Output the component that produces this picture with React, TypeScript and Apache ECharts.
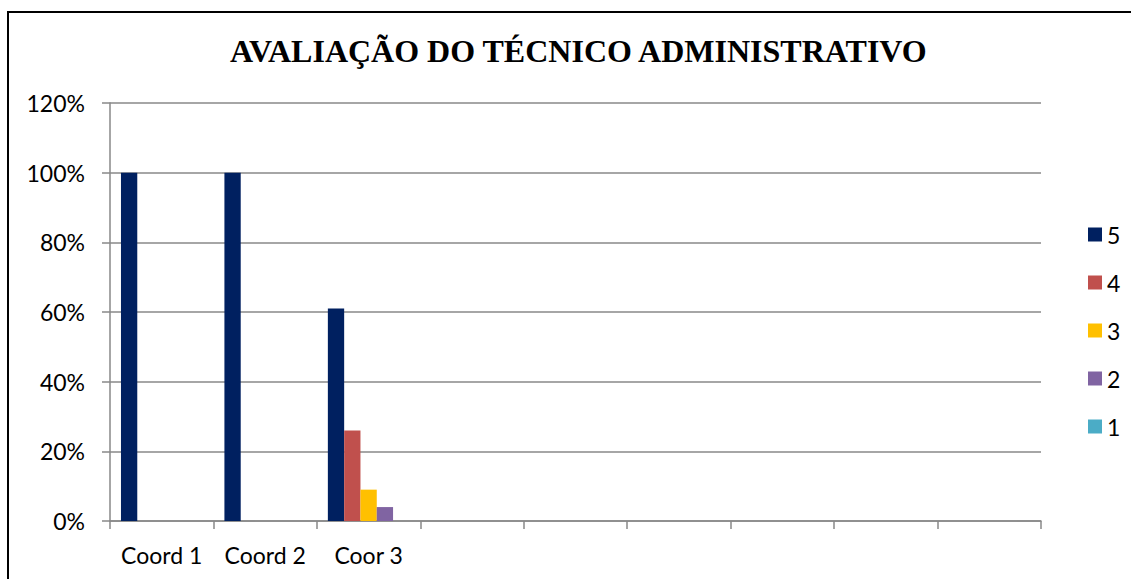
import React, { useEffect, useRef } from "react";
import * as echarts from "echarts";

const categories = ["Coord 1", "Coord 2", "Coor 3", "", "", "", "", "", ""];
const seriesNames = ["5", "4", "3", "2", "1"];
const values5 = [100, 100, 61, null, null, null, null, null, null];
const values4 = [null, null, 26, null, null, null, null, null, null];
const values3 = [null, null, 9, null, null, null, null, null, null];
const values2 = [null, null, 4, null, null, null, null, null, null];
const values1 = [null, null, 0, null, null, null, null, null, null];
const colors = ["#002060", "#C0504D", "#FFC000", "#8064A2", "#4BACC6"];
const yTicks = [0, 20, 40, 60, 80, 100, 120];

const FONT = "Lato";

export default function App() {
  const ref = useRef<HTMLDivElement>(null);
  useEffect(() => {
    if (!ref.current) return;
    const chart = echarts.init(ref.current, undefined, { renderer: "svg" });
    const allValues = [values5, values4, values3, values2, values1];
    chart.setOption({
      animation: false,
      backgroundColor: "#ffffff",
      title: {
        text: "AVALIAÇÃO DO TÉCNICO ADMINISTRATIVO",
        left: 230,
        top: 35,
        padding: 0,
        textStyle: {
          fontFamily: "Liberation Serif",
          fontWeight: "bold",
          fontSize: 32,
          color: "#000",
        },
      },
      graphic: [
        {
          type: "rect",
          shape: { x: 8, y: 12, width: 1300, height: 800 },
          style: { fill: "none", stroke: "#000", lineWidth: 2 },
          silent: true,
        },
      ],
      legend: {
        orient: "vertical",
        left: 1083,
        top: 218,
        itemWidth: 14,
        itemHeight: 14,
        itemGap: 25,
        icon: "rect",
        data: seriesNames,
        textStyle: { fontFamily: FONT, fontSize: 23, color: "#000" },
      },
      grid: { left: 110, right: 90, top: 103, bottom: 58 },
      xAxis: {
        type: "category",
        data: categories,
        axisLine: { lineStyle: { color: "#888", width: 1.5 } },
        axisTick: { show: true, length: 8, lineStyle: { color: "#888", width: 1.5 } },
        axisLabel: {
          interval: 0,
          margin: 22,
          fontFamily: FONT,
          fontSize: 23,
          color: "#000",
        },
      },
      yAxis: {
        type: "value",
        min: 0,
        max: 120,
        interval: 20,
        axisLine: { show: true, lineStyle: { color: "#888", width: 1.5 } },
        axisTick: { show: true, length: 8, lineStyle: { color: "#888", width: 1.5 } },
        splitLine: { lineStyle: { color: "#888", width: 1.5 } },
        axisLabel: {
          margin: 25,
          fontFamily: FONT,
          fontSize: 23,
          color: "#000",
          formatter: (v: number) => (yTicks.includes(v) ? `${v}%` : ""),
        },
      },
      series: seriesNames.map((name, i) => ({
        name,
        type: "bar",
        data: allValues[i],
        barWidth: 16.3,
        barGap: "0%",
        itemStyle: { color: colors[i] },
      })),
    });
    return () => chart.dispose();
  }, []);
  return (
    <div
      ref={ref}
      style={{ position: "fixed", left: 0, top: 0, width: 1131, height: 579 }}
    />
  );
}
